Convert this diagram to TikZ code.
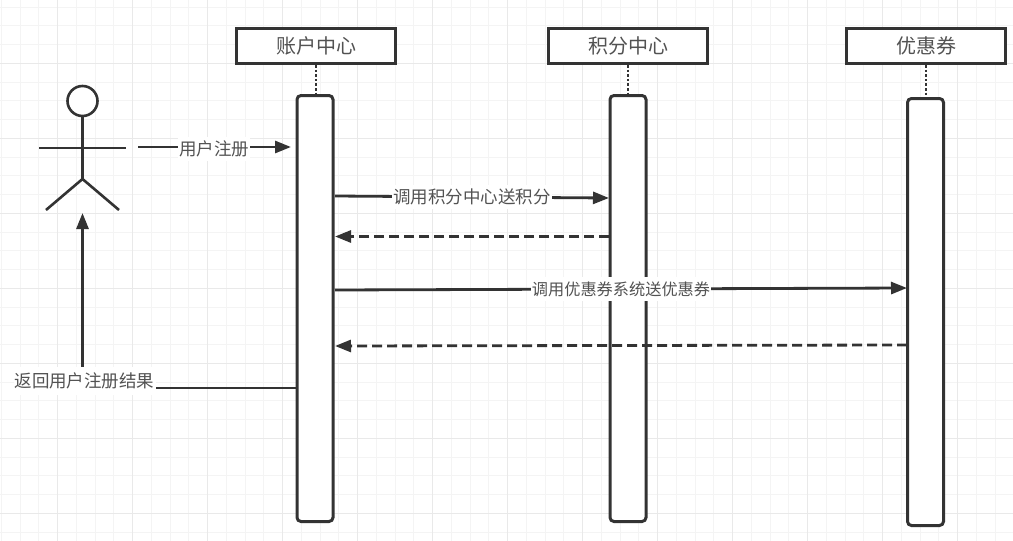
\documentclass[tikz,border=0pt]{standalone}
\usepackage{fontspec}
\setmainfont{Noto Sans CJK SC}
\usetikzlibrary{arrows.meta}
\definecolor{ink}{HTML}{333333}
\definecolor{gridminor}{HTML}{F4F4F4}
\definecolor{gridmajor}{HTML}{E9E9E9}
\tikzset{
  x=1pt,y=-1pt,
  header/.style={draw=ink,line width=3pt,fill=white,minimum width=159pt,minimum height=35pt,inner sep=0pt,font=\fontsize{20pt}{22pt}\selectfont,text=ink!85},
  bar/.style={draw=ink,line width=3pt,fill=white,rounded corners=4pt,minimum width=36pt,inner sep=0pt},
  life/.style={draw=ink,line width=2.6pt,dotted,line cap=butt},
  msg/.style={draw=ink,line width=2.8pt,-{Triangle[length=16pt,width=12pt]}},
  msgd/.style={msg,dash pattern=on 10pt off 5pt},
  lbl/.style={fill=white,inner xsep=1pt,inner ysep=4pt,text=ink!85,font=\fontsize{17.5pt}{20pt}\selectfont},
  lblsm/.style={lbl,font=\fontsize{16.2pt}{20pt}\selectfont},
  stick/.style={draw=ink,line width=2.6pt}
}
\begin{document}
\begin{tikzpicture}
\useasboundingbox (0,0) rectangle (1013,541);
\fill[white] (0,0) rectangle (1013,541);
\foreach \i in {0,...,54}{\draw[gridminor,line width=1pt] ({1.25+18.75*\i},0) -- ({1.25+18.75*\i},541);}
\foreach \i in {0,...,28}{\draw[gridminor,line width=1pt] (0,{7.05+18.75*\i}) -- (1013,{7.05+18.75*\i});}
\foreach \i in {0,...,13}{\draw[gridmajor,line width=1pt] ({57.5+75*\i},0) -- ({57.5+75*\i},541);}
\foreach \i in {0,...,6}{\draw[gridmajor,line width=1pt] (0,{63.3+75*\i}) -- (1013,{63.3+75*\i});}

% headers
\node[header] (h1) at (316,46) {账户中心};
\node[header] (h2) at (628,46) {积分中心};
\node[header] (h3) at (926,46) {优惠券};
% activation bars
\node[bar,minimum height=426pt] (b1) at (315,308.5) {};
\node[bar,minimum height=426pt] (b2) at (628,308.5) {};
\node[bar,minimum height=427pt] (b3) at (925.5,312) {};
\draw[life] (h1.south) -- (h1.south |- b1.north);
\draw[life] (h2.south) -- (h2.south |- b2.north);
\draw[life] (h3.south) -- (h3.south |- b3.north);

% actor
\node[circle,draw=ink,line width=2.6pt,fill=white,minimum size=30pt,inner sep=0pt] (head) at (82.5,101) {};
\coordinate (hip) at (82.5,179);
\coordinate (armL) at (39,148);
\coordinate (armR) at (126,148);
\coordinate (legL) at (46,210);
\coordinate (legR) at (119,210);
\draw[stick] (head.south) -- (hip);
\draw[stick] (armL) -- (armR);
\draw[stick] (legL) -- (hip) -- (legR);

% messages
\coordinate (m1s) at (138,147);
\coordinate (m1e) at (291,147);
\draw[msg] (m1s) -- (m1e) node[lbl,pos=0.497,yshift=-2pt] (l1) {用户注册};

\coordinate (m2s) at (335,196);
\coordinate (m2e) at (609,198);
\draw[msg] (m2s) -- (m2e) node[lbl,pos=0.5] (l2) {调用积分中心送积分};

\coordinate (m3s) at (609,236.5);
\coordinate (m3e) at (335,236.5);
\draw[msgd] (m3s) -- (m3e);

\coordinate (m4s) at (335,290);
\coordinate (m4e) at (907,288);
\draw[msg] (m4s) -- (m4e) node[lblsm,pos=0.5] (l4) {调用优惠券系统送优惠券};

\coordinate (m5s) at (907,345);
\coordinate (m5e) at (335,346);
\draw[msgd] (m5s) -- (m5e);

\coordinate (r1) at (296,388);
\coordinate (r2) at (82.5,388);
\coordinate (r3) at (82.5,213);
\draw[msg] (r1) -- (r2) -- (r3);
\node[lbl,inner ysep=6pt] (l5) at (84.5,381) {返回用户注册结果};
\end{tikzpicture}
\end{document}
